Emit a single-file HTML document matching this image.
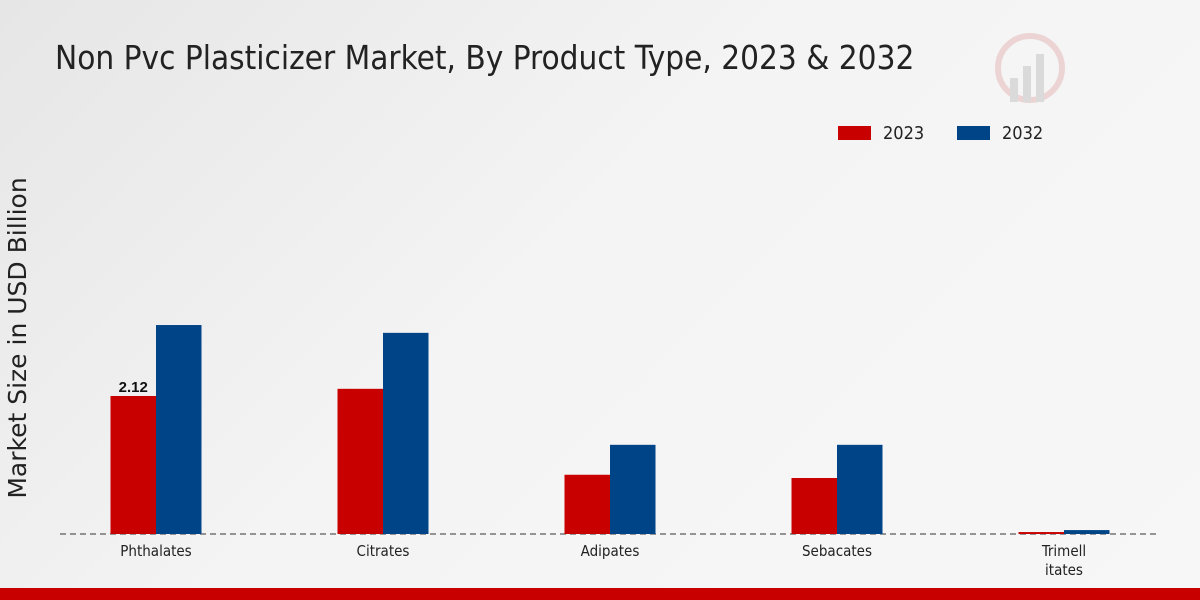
<!DOCTYPE html>
<html><head><meta charset="utf-8"><style>
body{margin:0;width:1200px;height:600px;overflow:hidden;font-family:"Liberation Sans","DejaVu Sans",sans-serif;}
#bg{position:absolute;left:0;top:0;width:1200px;height:600px;background:linear-gradient(135deg,#e6e6e6 0%,#f4f4f4 45%,#f7f7f7 100%);}
</style></head><body>
<div id="bg"></div>
<svg id="chart" width="1200" height="600" style="position:absolute;left:0;top:0">
<text x="55" y="69" font-size="33" fill="#222" font-family="DejaVu Sans Condensed, DejaVu Sans, sans-serif">Non Pvc Plasticizer Market, By Product Type, 2023 &amp; 2032</text>
<g opacity="0.35">
<circle cx="1030" cy="68" r="32" fill="none" stroke="#d99" stroke-width="6"/>
<rect x="1010" y="78" width="8" height="24" fill="#aaa"/><rect x="1023" y="66" width="8" height="36" fill="#aaa"/><rect x="1036" y="54" width="8" height="48" fill="#aaa"/>
</g>
<g>
<rect x="838" y="126" width="33" height="14" fill="#c80000"/>
<text x="883" y="139" font-size="18" fill="#222" font-family="DejaVu Sans Condensed, DejaVu Sans, sans-serif">2023</text>
<rect x="957" y="126" width="33" height="14" fill="#004488"/>
<text x="1002" y="139" font-size="18" fill="#222" font-family="DejaVu Sans Condensed, DejaVu Sans, sans-serif">2032</text>
</g>
<text transform="translate(26,338) rotate(-90)" text-anchor="middle" font-size="25" fill="#222" font-family="DejaVu Sans, sans-serif">Market Size in USD Billion</text>
<line x1="60" y1="534" x2="1160" y2="534" stroke="#333" stroke-dasharray="6,4"/>
<g id="bars"></g>
<rect x="0" y="588" width="1200" height="12" fill="#c80000"/>
</svg>
<script>
const categories=[["Phthalates"],["Citrates"],["Adipates"],["Sebacates"],["Trimell","itates"]];
const values2023=[2.12,2.23,0.91,0.86,0.03];
const values2032=[3.21,3.09,1.37,1.37,0.06];
const labelIndex=0;
const ns="http://www.w3.org/2000/svg";
const g=document.getElementById('bars');
const baseY=534, scale=65.1, x0=156, step=227, bw=45.5;
const yS=v=>v*scale;
const xS=i=>x0+i*step;
function mk(t,a){const e=document.createElementNS(ns,t);for(const k in a)e.setAttribute(k,a[k]);return e;}
categories.forEach((c,i)=>{
  const cx=xS(i);
  const h1=yS(values2023[i]), h2=yS(values2032[i]);
  const r1=mk('rect',{x:cx-bw,y:baseY-h1,width:bw,height:h1,fill:'#c80000'});
  
  
  g.appendChild(r1);
  const r2=mk('rect',{x:cx,y:baseY-h2,width:bw,height:h2,fill:'#004488'});
  
  
  g.appendChild(r2);
  const t=mk('text',{x:cx,y:556,'text-anchor':'middle','font-size':15,fill:'#222','font-family':'DejaVu Sans Condensed, DejaVu Sans, sans-serif'});
  c.forEach((line,j)=>{const s=mk('tspan',{x:cx,dy:j?19:0});s.textContent=line;t.appendChild(s);});
  
  
  g.appendChild(t);
  if(i===labelIndex){
    const v=mk('text',{x:cx-bw/2,y:baseY-h1-4,'text-anchor':'middle','font-size':15,'font-weight':'bold',fill:'#111'});
    v.textContent=values2023[i].toFixed(2);
    
    
    g.appendChild(v);
  }
});
</script>
</body></html>
